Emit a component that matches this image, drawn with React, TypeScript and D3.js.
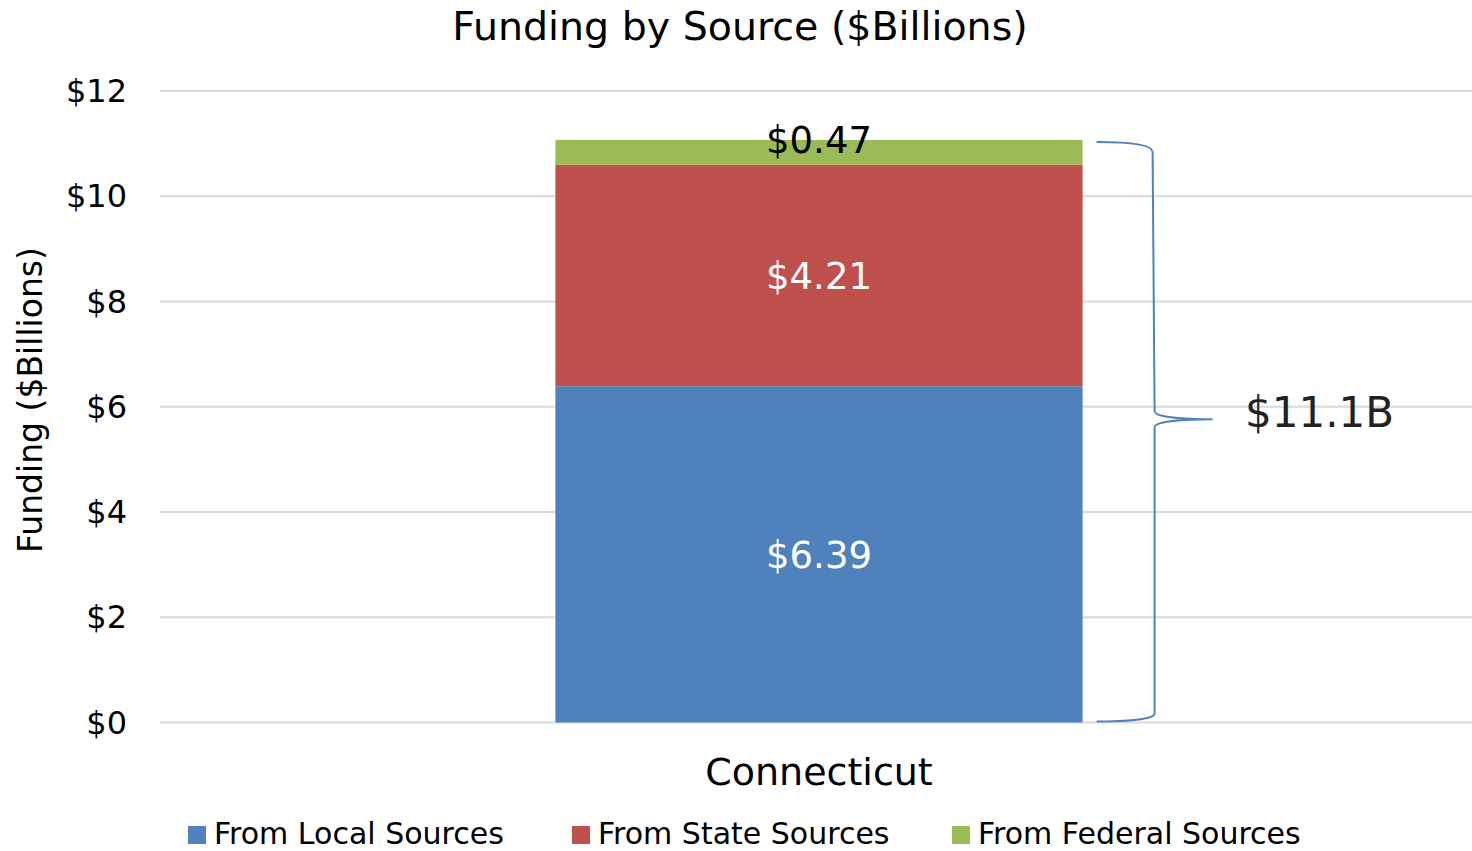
import React from "react";
import * as d3 from "d3";

const categories = ["Connecticut"];
const seriesNames = ["From Local Sources", "From State Sources", "From Federal Sources"];
const seriesColors = ["#4f81bd", "#c0504d", "#9bbb59"];
const localValues = [6.39];
const stateValues = [4.21];
const federalValues = [0.47];
const yTicks = [0, 2, 4, 6, 8, 10, 12];
const totalLabel = "$11.1B";

const W = 1472;
const H = 851;
const FONT = "'Century Gothic', 'DejaVu Sans', sans-serif";

export default function App() {
  const x = d3.scaleBand<string>().domain(categories).range([160, 1478]).paddingInner(0.6).paddingOuter(0.3);
  const y = d3.scaleLinear().domain([0, 12]).range([722.5, 91]);
  const series = [localValues, stateValues, federalValues];
  const rows = categories.map((c, i) => {
    const r: any = { cat: c };
    seriesNames.forEach((s, k) => (r[s] = series[k][i]));
    return r;
  });
  const stacked = d3.stack<any>().keys(seriesNames)(rows);
  const cat = categories[0];
  const bx = x(cat)!;
  const bw = x.bandwidth();
  const top = stacked[2][0][1];
  const yTop = y(top) + 2;
  const yBot = y(0) - 1;
  const yMid = y(top / 2) - 12;
  const bl = bx + bw + 14;
  const bv = bl + 58;
  const tip = bv + 58;
  const bracket = `M${bl},${yTop} C${bl + 30},${yTop} ${bv - 2},${yTop + 2} ${bv - 2},${yTop + 10} L${bv},${yMid - 8} C${bv},${yMid - 2} ${bv + 30},${yMid} ${tip},${yMid} C${bv + 30},${yMid} ${bv},${yMid + 2} ${bv},${yMid + 8} L${bv},${yBot - 8} C${bv},${yBot - 2} ${bv - 30},${yBot} ${bl},${yBot}`;

  const legendX = [188, 572, 952];

  return (
    <svg width={W} height={H} style={{ display: "block", position: "absolute", left: 0, top: 0 }} fontFamily={FONT}>
      <rect width={W} height={H} fill="#fff" />
      <text x={740} y={40} textAnchor="middle" fontSize={39.5} fill="#000">Funding by Source ($Billions)</text>
      {yTicks.map((t) => (
        <g key={t}>
          <line x1={160} x2={W} y1={y(t)} y2={y(t)} stroke="#d9d9d9" strokeWidth={2} />
          <text x={127} y={y(t) + 11} textAnchor="end" fontSize={32} fill="#000">${t}</text>
        </g>
      ))}
      <text transform={`translate(42,400) rotate(-90)`} textAnchor="middle" fontSize={33} fill="#000">Funding ($Billions)</text>
      {stacked.map((s, k) => (
        <rect key={k} x={bx} width={bw} y={y(s[0][1])} height={y(s[0][0]) - y(s[0][1])} fill={seriesColors[k]} />
      ))}
      {stacked.map((s, k) => {
        const v = series[k][0];
        const cy = (y(s[0][0]) + y(s[0][1])) / 2;
        return (
          <text key={k} x={bx + bw / 2} y={cy + (k === 2 ? 1 : 14)} textAnchor="middle" fontSize={37} fill={k === 2 ? "#000" : "#fff"}>
            ${v.toFixed(2)}
          </text>
        );
      })}
      <path d={bracket} fill="none" stroke="#4f81bd" strokeWidth={2} />
      <text x={1245} y={427} fontSize={42} fill="#222">{totalLabel}</text>
      <text x={bx + bw / 2} y={785} textAnchor="middle" fontSize={38} fill="#000">{cat}</text>
      {seriesNames.map((s, k) => (
        <g key={s}>
          <rect x={legendX[k]} y={826} width={18} height={18} fill={seriesColors[k]} />
          <text x={legendX[k] + 26} y={844} fontSize={30} fill="#000">{s}</text>
        </g>
      ))}
    </svg>
  );
}
